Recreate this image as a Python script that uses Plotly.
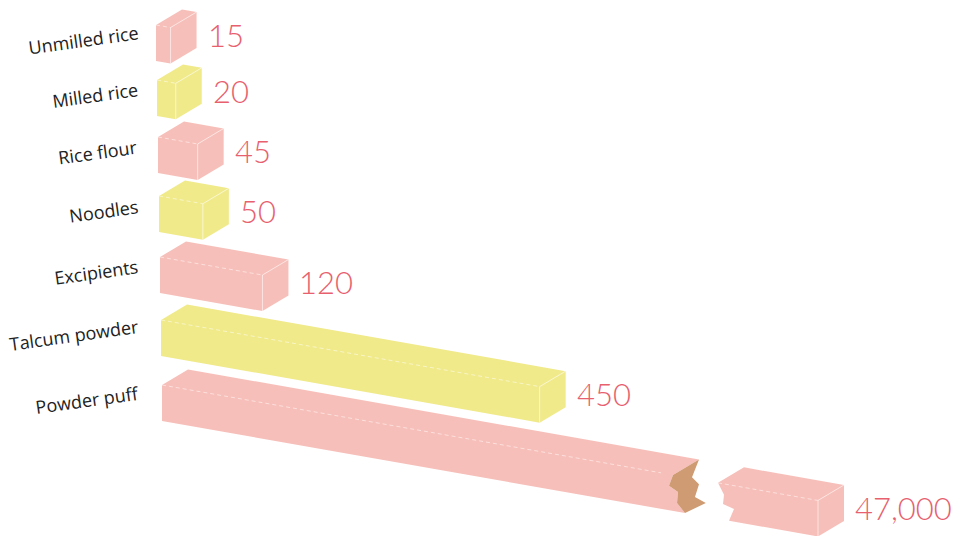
import plotly.graph_objects as go

# ---------------- data ----------------
categories = ["Unmilled rice", "Milled rice", "Rice flour", "Noodles",
              "Excipients", "Talcum powder", "Powder puff"]
values = [15, 20, 45, 50, 120, 450, 47000]
value_labels = ["15", "20", "45", "50", "120", "450", "47,000"]
bar_colors = ["#f7bfb9", "#f0ea8b", "#f7bfb9", "#f0ea8b",
              "#f7bfb9", "#f0ea8b", "#f7bfb9"]

# ---------------- projection (oblique 3D look) ----------------
W, H = 958, 536
ORIGIN_X, ORIGIN_Y = 156, 25
ROW_DX, ROW_DY, ROW_ACC = 1.0, 55.0, 1.0
UNIT_PX, LEN_PAD = 0.837, 2.0
SLOPE = 0.176
DEPTH_X, DEPTH_Y = 26.0, -15.5
HEIGHT = 36.0
CAP_VALUE = 600          # values above this are drawn with a scale break
BREAK_PX, GAP_PX, TAIL_PX = 511.0, 45.0, 100.0

BREAK_COLOR = "#cf9b72"
TEXT_RED = "#e8606e"
EDGE = "rgba(255,255,255,0.6)"
DASH_EDGE = "rgba(255,255,255,0.5)"


def pt(row, a, d, h):
    x = ORIGIN_X + ROW_DX * row + a + d * DEPTH_X
    y = ORIGIN_Y + ROW_DY * row + ROW_ACC * row * (row - 1) + a * SLOPE + d * DEPTH_Y + h * HEIGHT
    return x, y


def poly(fig, row, pts, color):
    xy = [pt(row, *p) for p in pts]
    xs = [p[0] for p in xy] + [xy[0][0]]
    ys = [p[1] for p in xy] + [xy[0][1]]
    fig.add_trace(go.Scatter(x=xs, y=ys, fill="toself", fillcolor=color, mode="lines",
                             line=dict(width=0, color=color), hoverinfo="skip", showlegend=False))


def line(fig, row, pts, dash="solid", color=EDGE, width=1):
    xy = [pt(row, *p) for p in pts]
    fig.add_trace(go.Scatter(x=[p[0] for p in xy], y=[p[1] for p in xy], mode="lines",
                             line=dict(width=width, color=color, dash=dash),
                             hoverinfo="skip", showlegend=False))


fig = go.Figure()
annotations = []

for row, (cat, v, lab, col) in enumerate(zip(categories, values, value_labels, bar_colors)):
    if v <= CAP_VALUE:
        L = LEN_PAD + UNIT_PX * v
        poly(fig, row, [(0, 0, 0), (0, 1, 0), (L, 1, 0), (L, 1, 1), (L, 0, 1), (0, 0, 1)], col)
        line(fig, row, [(0, 0, 0), (L, 0, 0)], dash="4px,3px", color=DASH_EDGE)
        line(fig, row, [(L, 1, 0), (L, 0, 0), (L, 0, 1)])
        end = L
    else:
        # left piece, ending in a jagged break
        B = BREAK_PX
        front_jag = [(B - 4, 0, 0.32), (B + 5, 0, 0.45), (B + 4, 0, 0.76), (B + 12, 0, 1.0)]
        poly(fig, row, [(0, 0, 0), (0, 1, 0), (B, 1, 0), (B, 0, 0)] + front_jag + [(0, 0, 1)], col)
        line(fig, row, [(0, 0, 0), (B - 12, 0, 0)], dash="4px,3px", color=DASH_EDGE)
        back_jag = [(B, 1, 0), (B - 7, 1, 0.53), (B, 1, 0.69), (B - 1.2, 0.89, 1.0),
                    (B + 15, 0.685, 1.0)]
        poly(fig, row, [(B, 0, 0)] + back_jag + front_jag[::-1], BREAK_COLOR)
        # right piece, starting with a jagged edge
        S = B + GAP_PX
        E = S + TAIL_PX
        poly(fig, row, [(S, 0, 0), (S, 1, 0), (E, 1, 0), (E, 1, 1), (E, 0, 1),
                        (S + 11, 0, 1.0), (S + 16, 0, 0.65), (S + 5, 0, 0.56), (S + 6, 0, 0.3)], col)
        line(fig, row, [(S, 0, 0), (E, 0, 0)], dash="4px,3px", color=DASH_EDGE)
        line(fig, row, [(E, 1, 0), (E, 0, 0), (E, 0, 1)])
        end = E

    # value label next to the end face
    bx, _ = pt(row, end, 1, 0)
    _, cy = pt(row, end, 0.5, 0.5)
    annotations.append(dict(x=bx + 9, y=cy - 3, text=lab, showarrow=False, xanchor="left",
                            yanchor="middle", xref="x", yref="y",
                            font=dict(family="Lato", size=31, color=TEXT_RED, weight=300)))
    # category label, slanted
    _, ly = pt(row, 0, 0, 0.5)
    annotations.append(dict(x=142, y=ly - 3, text=cat, showarrow=False, xanchor="right",
                            yanchor="middle", xref="x", yref="y", textangle=-8,
                            font=dict(family="Open Sans", size=18, color="#222222")))

fig.update_layout(
    width=W, height=H,
    margin=dict(l=0, r=0, t=0, b=0),
    paper_bgcolor="white", plot_bgcolor="white",
    xaxis=dict(range=[0, W], visible=False, fixedrange=True),
    yaxis=dict(range=[H, 0], visible=False, fixedrange=True),
    annotations=annotations,
    showlegend=False,
)

fig.write_html("out.html", config={"displayModeBar": False},
               post_script="document.body.style.margin='0px';document.body.style.overflow='hidden';")
